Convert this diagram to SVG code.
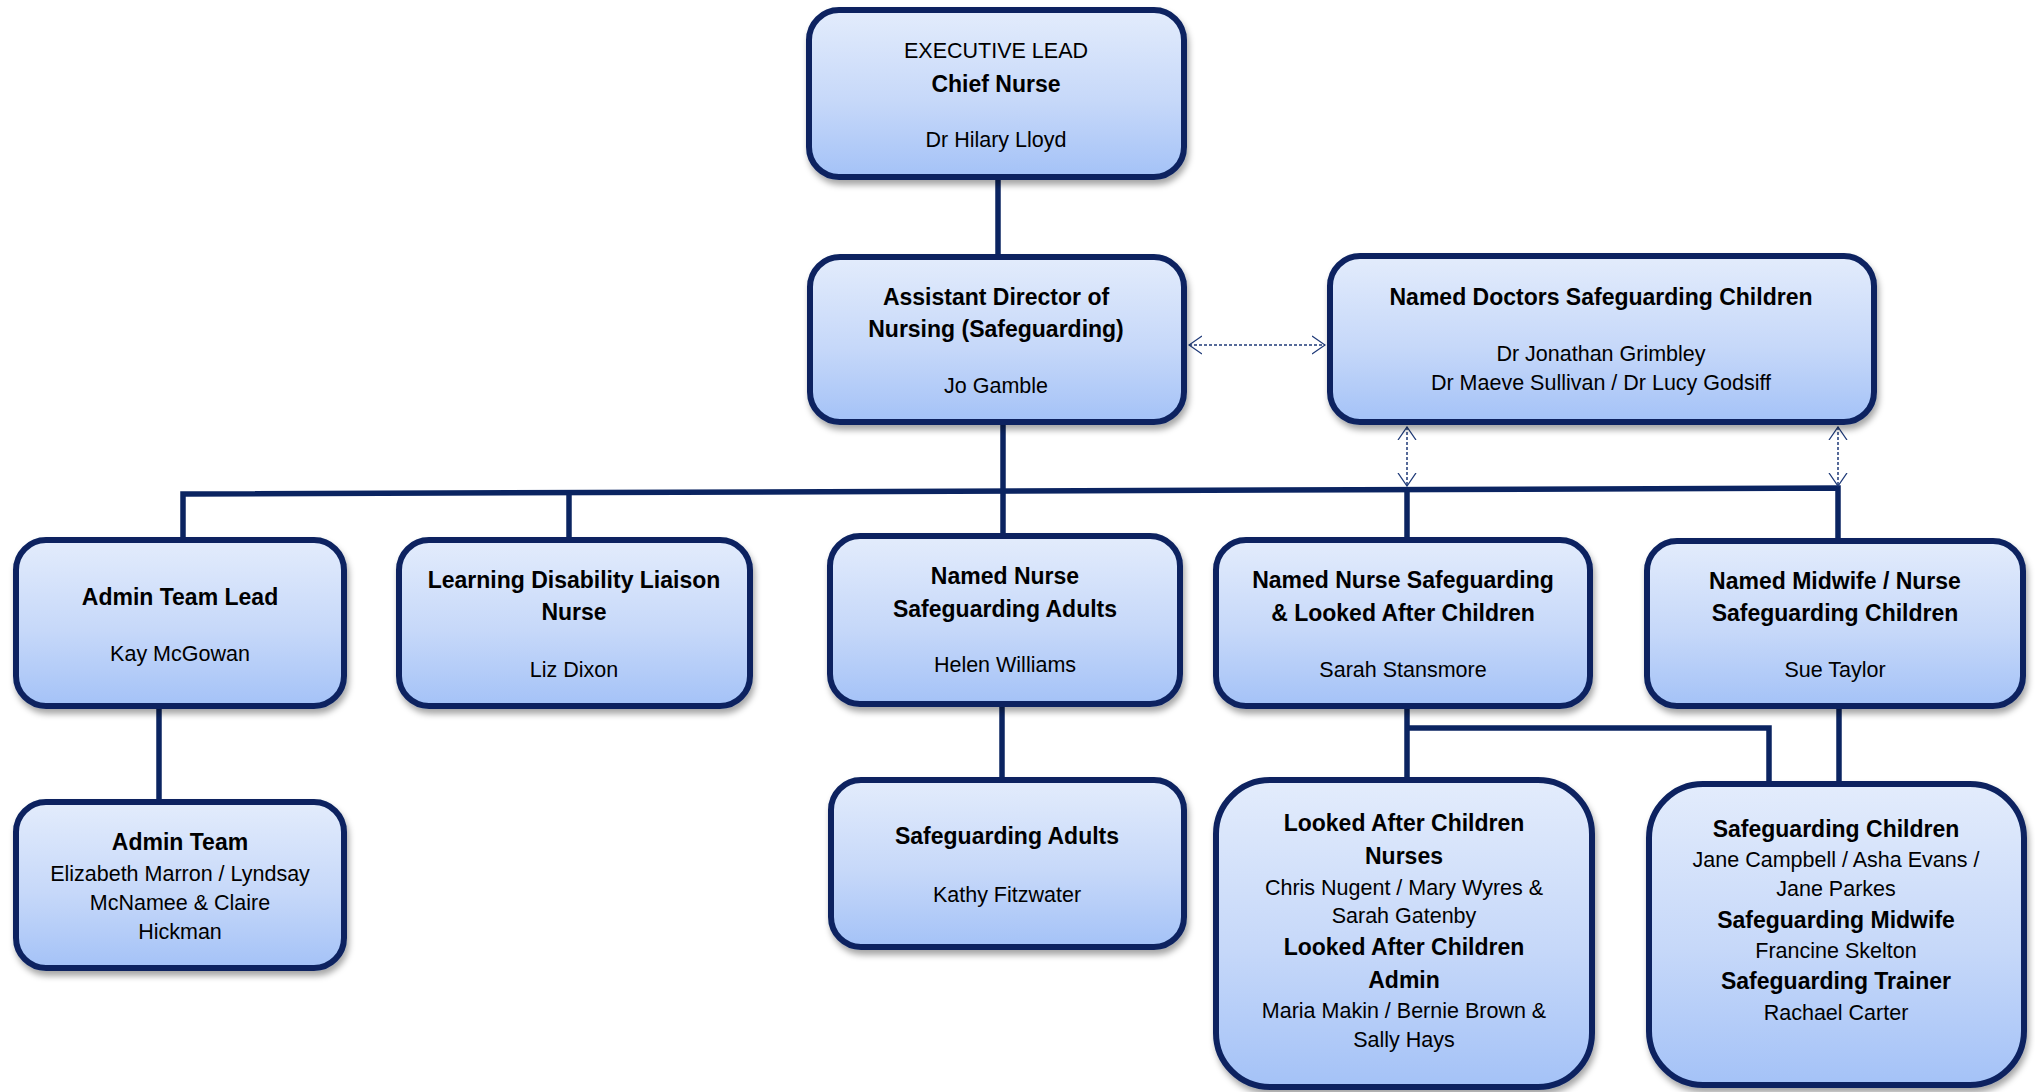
<svg xmlns="http://www.w3.org/2000/svg" width="2035" height="1092" viewBox="0 0 2035 1092">
<defs>
<linearGradient id="fillGrad" x1="0" y1="0" x2="0" y2="1">
<stop offset="0" stop-color="#E3ECFC"/>
<stop offset="0.55" stop-color="#C6D8F9"/>
<stop offset="1" stop-color="#A4C2F7"/>
</linearGradient>
<filter id="shadow" x="-10%" y="-10%" width="125%" height="130%">
<feDropShadow dx="2" dy="5" stdDeviation="3" flood-color="#000" flood-opacity="0.35"/>
</filter>
<marker id="vhead" viewBox="0 0 14 20" refX="13" refY="10" markerWidth="14" markerHeight="20" markerUnits="userSpaceOnUse" orient="auto-start-reverse">
<path d="M0,1 L13,10 L0,19" fill="none" stroke="#1F3A78" stroke-width="1.3"/>
</marker>
</defs>
<style>
.box{fill:url(#fillGrad);stroke:#0B2461;stroke-width:6;filter:url(#shadow)}
.conn{fill:none;stroke:#0B2461;stroke-width:5.5}
.dash{fill:none;stroke:#1F3A78;stroke-width:1.5;stroke-dasharray:3 2;marker-start:url(#vhead);marker-end:url(#vhead)}
text{font-family:"Liberation Sans",Arial,sans-serif;text-anchor:middle;fill:#000}
.r{font-size:21.5px}
.b{font-size:23px;font-weight:bold}
</style>
<g id="connectors">
<path class="conn" d="M998,176 V258"/>
<path class="conn" d="M1003,420 V538"/>
<path class="conn" d="M183,542 V494 L1838,488 V543"/>
<path class="conn" d="M569,492.6 V542"/>
<path class="conn" d="M1407,489.6 V542"/>
<path class="conn" d="M159,704 V804"/>
<path class="conn" d="M1002,702 V782"/>
<path class="conn" d="M1407,704 V782"/>
<path class="conn" d="M1407,728 H1769 V786"/>
<path class="conn" d="M1839,704 V786"/>
<path class="dash" d="M1189,345 H1325"/>
<path class="dash" d="M1407,427 V486"/>
<path class="dash" d="M1838,427 V486"/>
</g>
<g id="executive-lead">
<rect class="box" x="809" y="10" width="375" height="167" rx="30"/>
<text class="r" x="996" y="58">EXECUTIVE LEAD</text>
<text class="b" x="996" y="92">Chief Nurse</text>
<text class="r" x="996" y="147">Dr Hilary Lloyd</text>
</g>
<g id="assistant-director">
<rect class="box" x="810" y="257" width="374" height="165" rx="30"/>
<text class="b" x="996" y="305">Assistant Director of</text>
<text class="b" x="996" y="337">Nursing (Safeguarding)</text>
<text class="r" x="996" y="393">Jo Gamble</text>
</g>
<g id="named-doctors">
<rect class="box" x="1330" y="256" width="544" height="166" rx="30"/>
<text class="b" x="1601" y="305">Named Doctors Safeguarding Children</text>
<text class="r" x="1601" y="361">Dr Jonathan Grimbley</text>
<text class="r" x="1601" y="390">Dr Maeve Sullivan / Dr Lucy Godsiff</text>
</g>
<g id="admin-team-lead">
<rect class="box" x="16" y="540" width="328" height="166" rx="30"/>
<text class="b" x="180" y="605">Admin Team Lead</text>
<text class="r" x="180" y="661">Kay McGowan</text>
</g>
<g id="learning-disability">
<rect class="box" x="399" y="540" width="351" height="166" rx="30"/>
<text class="b" x="574" y="588">Learning Disability Liaison</text>
<text class="b" x="574" y="620">Nurse</text>
<text class="r" x="574" y="677">Liz Dixon</text>
</g>
<g id="named-nurse-adults">
<rect class="box" x="830" y="536" width="350" height="168" rx="30"/>
<text class="b" x="1005" y="584">Named Nurse</text>
<text class="b" x="1005" y="617">Safeguarding Adults</text>
<text class="r" x="1005" y="672">Helen Williams</text>
</g>
<g id="named-nurse-lac">
<rect class="box" x="1216" y="540" width="374" height="166" rx="30"/>
<text class="b" x="1403" y="588">Named Nurse Safeguarding</text>
<text class="b" x="1403" y="621">&amp; Looked After Children</text>
<text class="r" x="1403" y="677">Sarah Stansmore</text>
</g>
<g id="named-midwife">
<rect class="box" x="1647" y="541" width="376" height="165" rx="30"/>
<text class="b" x="1835" y="589">Named Midwife / Nurse</text>
<text class="b" x="1835" y="621">Safeguarding Children</text>
<text class="r" x="1835" y="677">Sue Taylor</text>
</g>
<g id="admin-team">
<rect class="box" x="16" y="802" width="328" height="166" rx="30"/>
<text class="b" x="180" y="850">Admin Team</text>
<text class="r" x="180" y="881">Elizabeth Marron / Lyndsay</text>
<text class="r" x="180" y="910">McNamee &amp; Claire</text>
<text class="r" x="180" y="939">Hickman</text>
</g>
<g id="safeguarding-adults">
<rect class="box" x="831" y="780" width="353" height="167" rx="30"/>
<text class="b" x="1007" y="844">Safeguarding Adults</text>
<text class="r" x="1007" y="902">Kathy Fitzwater</text>
</g>
<g id="lac-team">
<rect class="box" x="1216" y="780" width="376" height="307" rx="54"/>
<text class="b" x="1404" y="831">Looked After Children</text>
<text class="b" x="1404" y="864">Nurses</text>
<text class="r" x="1404" y="895">Chris Nugent / Mary Wyres &amp;</text>
<text class="r" x="1404" y="923">Sarah Gatenby</text>
<text class="b" x="1404" y="955">Looked After Children</text>
<text class="b" x="1404" y="988">Admin</text>
<text class="r" x="1404" y="1018">Maria Makin / Bernie Brown &amp;</text>
<text class="r" x="1404" y="1047">Sally Hays</text>
</g>
<g id="safeguarding-children-team">
<rect class="box" x="1649" y="784" width="375" height="301" rx="54"/>
<text class="b" x="1836" y="837">Safeguarding Children</text>
<text class="r" x="1836" y="867">Jane Campbell / Asha Evans /</text>
<text class="r" x="1836" y="896">Jane Parkes</text>
<text class="b" x="1836" y="928">Safeguarding Midwife</text>
<text class="r" x="1836" y="958">Francine Skelton</text>
<text class="b" x="1836" y="989">Safeguarding Trainer</text>
<text class="r" x="1836" y="1020">Rachael Carter</text>
</g>
</svg>
